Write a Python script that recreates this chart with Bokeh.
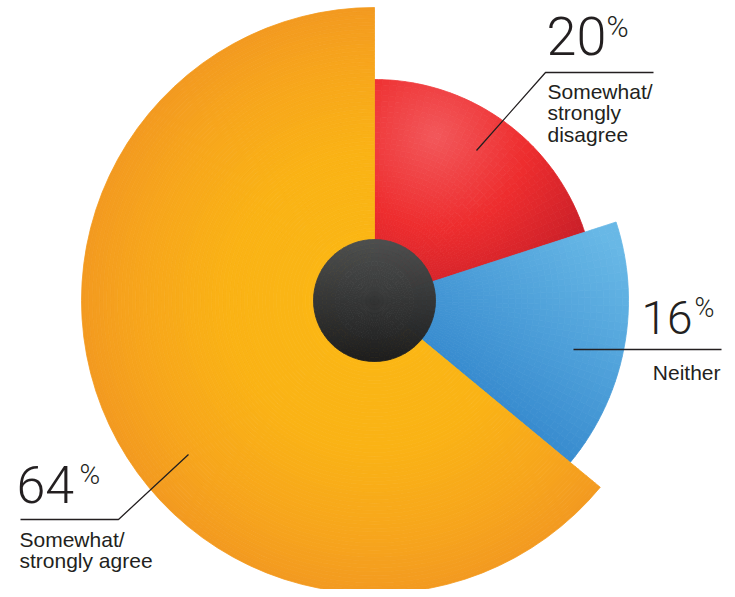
import numpy as np
from bokeh.plotting import figure
from bokeh.models import Range1d, ColumnDataSource
from bokeh.embed import file_html
from bokeh.resources import INLINE
from bokeh.core.properties import value

# ---------------- data ----------------
categories = ["Somewhat/strongly disagree", "Neither", "Somewhat/strongly agree"]
label_lines = [["Somewhat/", "strongly", "disagree"], ["Neither"], ["Somewhat/", "strongly agree"]]
percents = [20, 16, 64]
slice_radius = [221, 254, 293]   # outer radius of each slice (px)

# ---------------- layout / style ----------------
W, H = 727, 589
CX, CY = 374, 300          # pie centre (screen px)
HOLE_R = 61
TXT = "#231f20"
BASE_FIX = 0.4             # baseline correction (fraction of font size)


def Y(sy):
    return 597 - sy


def hex2rgb(h):
    h = h.lstrip("#")
    return np.array([int(h[i:i + 2], 16) for i in (0, 2, 4)], dtype=float)


def ramp(stops, t):
    t = min(max(t, 0.0), 1.0)
    for (t0, c0), (t1, c1) in zip(stops[:-1], stops[1:]):
        if t <= t1:
            f = 0 if t1 == t0 else (t - t0) / (t1 - t0)
            c = hex2rgb(c0) * (1 - f) + hex2rgb(c1) * f
            return "#%02x%02x%02x" % tuple(int(round(v)) for v in c)
    return stops[-1][1]


red_stops = [(0, "#f2585b"), (0.4, "#ee2d2e"), (0.75, "#cb2029"), (1, "#c21c27")]
blue_stops = [(0, "#3286cc"), (1, "#68b8e6")]
orange_stops = [(0, "#fbb814"), (0.5, "#fab315"), (0.8, "#f7a61c"), (1, "#f39a20")]
hole_stops = [(0, "#4d4f4f"), (1, "#1d1d1d")]


def red_fn(sx, sy):
    return ramp(red_stops, np.hypot(sx - 435, sy - 135) / 230)


def blue_fn(sx, sy):
    p0 = np.array([480, 420]); p1 = np.array([622, 250])
    d = p1 - p0
    t = ((sx - p0[0]) * d[0] + (sy - p0[1]) * d[1]) / (d @ d)
    return ramp(blue_stops, t)


def orange_fn(sx, sy):
    return ramp(orange_stops, np.hypot(sx - CX, sy - CY) / 293)


def hole_fn(sx, sy):
    return ramp(hole_stops, (sy - (CY - HOLE_R)) / (2 * HOLE_R))


color_fns = [red_fn, blue_fn, orange_fn]
grid = [(34, 36), (34, 30), (70, 1)]


def cells(a0, a1, r0, r1, nr, na, fn):
    d = dict(x=[], y=[], ir=[], orr=[], sa=[], ea=[], c=[])
    for i in range(nr):
        ri0 = r0 + (r1 - r0) * i / nr
        ri1 = r0 + (r1 - r0) * (i + 1) / nr
        for j in range(na):
            aj0 = a0 + (a1 - a0) * j / na
            aj1 = a0 + (a1 - a0) * (j + 1) / na
            rm = (ri0 + ri1) / 2
            am = (aj0 + aj1) / 2
            sx = CX + rm * np.cos(am)
            sy = CY - rm * np.sin(am)
            d["x"].append(CX); d["y"].append(Y(CY))
            d["ir"].append(ri0); d["orr"].append(ri1)
            d["sa"].append(aj0); d["ea"].append(aj1)
            d["c"].append(fn(sx, sy))
    return d


p = figure(width=W, height=H, output_backend="svg", toolbar_location=None,
           x_range=Range1d(0, W), y_range=Range1d(597 - H, 597),
           min_border=0)
p.axis.visible = False
p.grid.visible = False
p.outline_line_color = None
p.background_fill_color = "white"

total = float(sum(percents))
cum = 0.0
for k, pct in enumerate(percents):
    a_hi = np.pi / 2 - 2 * np.pi * cum / total
    cum += pct
    a_lo = np.pi / 2 - 2 * np.pi * cum / total
    nr, na = grid[k]
    src = ColumnDataSource(cells(a_lo, a_hi, 40, slice_radius[k], nr, na, color_fns[k]))
    p.annular_wedge(x="x", y="y", inner_radius="ir", outer_radius="orr",
                    start_angle="sa", end_angle="ea", direction="anticlock",
                    fill_color="c", line_color="c", line_width=0.8, source=src)

# centre hole
hsrc = ColumnDataSource(cells(0, 2 * np.pi, 0, HOLE_R, 14, 72, hole_fn))
p.annular_wedge(x="x", y="y", inner_radius="ir", outer_radius="orr",
                start_angle="sa", end_angle="ea", direction="anticlock",
                fill_color="c", line_color="c", line_width=0.8, source=hsrc)

# ---------------- annotations ----------------
leaders = [[(476, 150), (545, 72), (653, 72)],
           [(573, 349), (721, 349)],
           [(188, 454), (118, 519), (20, 519)]]
for pts in leaders:
    p.line([q[0] for q in pts], [Y(q[1]) for q in pts], line_color=TXT, line_width=1.3)


def put(x, base_y, txt, size, font, align="left"):
    p.text(x=[x], y=[Y(base_y - BASE_FIX * size)], text=[txt], text_font=value(font),
           text_font_size=f"{size}px", text_color=TXT, text_baseline="alphabetic",
           text_align=align)


num_pos = [(546, 57, 54, 606, 38, 30),
           (641, 335, 46, 694, 318, 27),
           (16, 505, 52, 79, 485, 28)]
for k, pct in enumerate(percents):
    nx, ny, ns, px_, py_, ps = num_pos[k]
    put(nx, ny, str(pct), ns, "Roboto Light")
    put(px_, py_, "%", ps, "Roboto Light")

lab_pos = [(547, 99, "left"), (720, 380, "right"), (19, 547, "left")]
LINE_H = 21.5
for k, lines in enumerate(label_lines):
    lx, ly, al = lab_pos[k]
    for i, ln in enumerate(lines):
        put(lx, ly + i * LINE_H, ln, 21, "Liberation Sans", al)

open("out.html", "w").write(file_html(p, INLINE))
